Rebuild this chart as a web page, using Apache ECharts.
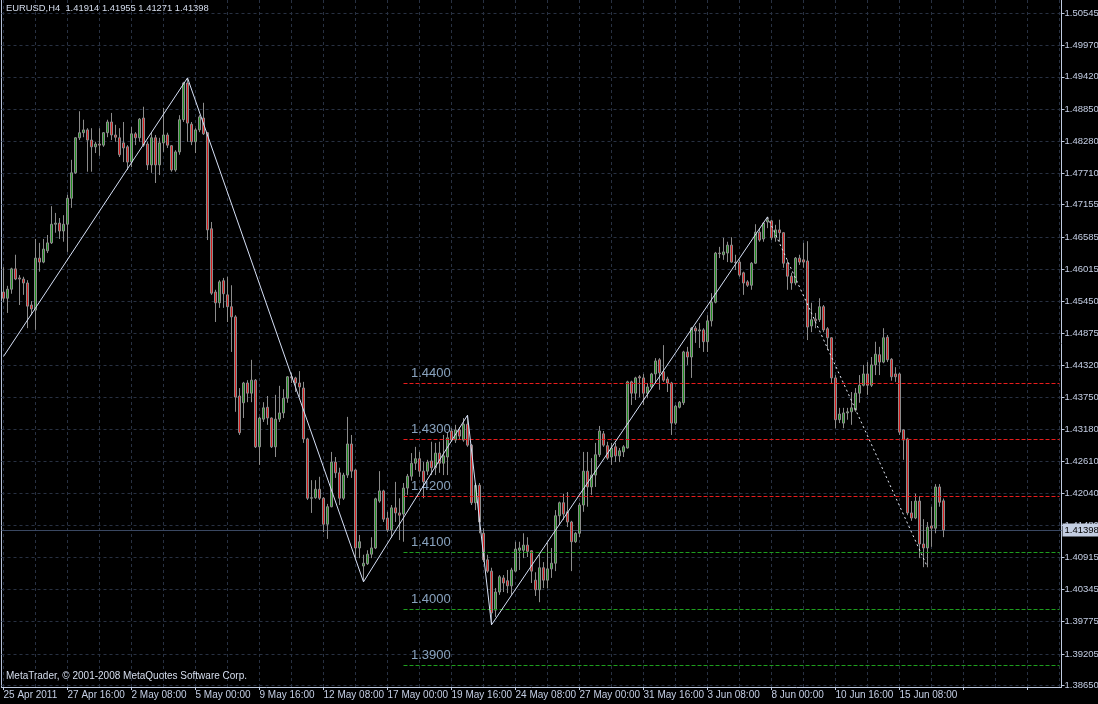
<!DOCTYPE html>
<html><head><meta charset="utf-8">
<script src="https://cdn.jsdelivr.net/npm/echarts@6/dist/echarts.min.js"></script>
<style>html,body{margin:0;padding:0;background:#000}#c{width:1098px;height:704px}</style>
</head><body><div id="c"></div>
<script>
// ---- data ----
const symbolName = 'EURUSD,H4';
const yearLabel = '2011';
const days = ['25 Apr','26 Apr','27 Apr','28 Apr','29 Apr','2 May','3 May','4 May','5 May','6 May','9 May','10 May','11 May','12 May','13 May','16 May','17 May','18 May','19 May','20 May','23 May','24 May','25 May','26 May','27 May','30 May','31 May','1 Jun','2 Jun','3 Jun','6 Jun','7 Jun','8 Jun','9 Jun','10 Jun','13 Jun','14 Jun','15 Jun','16 Jun','17 Jun'];
const hours = ['00:00','04:00','08:00','12:00','16:00','20:00'];
// [open, close, low, high]
const candles = [
[1.4561,1.4550,1.4543,1.4605],[1.4550,1.4566,1.4524,1.4572],[1.4566,1.4602,1.4558,1.4604],[1.4602,1.4584,1.4582,1.4627],
[1.4586,1.4584,1.4538,1.4591],[1.4584,1.4577,1.4556,1.4588],[1.4577,1.4536,1.4497,1.4582],[1.4538,1.4531,1.4520,1.4545],
[1.4529,1.4621,1.4494,1.4655],[1.4621,1.4614,1.4597,1.4648],[1.4614,1.4637,1.4612,1.4655],[1.4634,1.4648,1.4630,1.4662],
[1.4648,1.4681,1.4646,1.4713],[1.4681,1.4683,1.4666,1.4701],[1.4683,1.4669,1.4655,1.4692],[1.4669,1.4681,1.4650,1.4697],
[1.4681,1.4727,1.4632,1.4733],[1.4727,1.4772,1.4710,1.4795],[1.4772,1.4834,1.4770,1.4835],[1.4834,1.4843,1.4830,1.4881],
[1.4843,1.4848,1.4835,1.4866],[1.4848,1.4830,1.4774,1.4851],[1.4830,1.4818,1.4774,1.4851],[1.4818,1.4823,1.4807,1.4827],
[1.4823,1.4821,1.4802,1.4851],[1.4821,1.4843,1.4818,1.4844],[1.4843,1.4862,1.4835,1.4866],[1.4862,1.4839,1.4830,1.4878],
[1.4839,1.4835,1.4827,1.4857],[1.4834,1.4804,1.4800,1.4851],[1.4825,1.4816,1.4791,1.4862],[1.4818,1.4791,1.4777,1.4821],
[1.4791,1.4841,1.4782,1.4853],[1.4841,1.4834,1.4821,1.4844],[1.4834,1.4867,1.4827,1.4869],[1.4869,1.4821,1.4818,1.4889],
[1.4823,1.4786,1.4777,1.4827],[1.4786,1.4834,1.4772,1.4844],[1.4834,1.4786,1.4754,1.4839],[1.4786,1.4825,1.4768,1.4834],
[1.4825,1.4839,1.4809,1.4887],[1.4839,1.4821,1.4816,1.4843],[1.4820,1.4777,1.4774,1.4821],[1.4777,1.4809,1.4774,1.4812],
[1.4809,1.4866,1.4804,1.4874],[1.4866,1.4931,1.4862,1.4933],[1.4931,1.4860,1.4827,1.4940],[1.4858,1.4827,1.4821,1.4862],
[1.4827,1.4848,1.4807,1.4851],[1.4848,1.4871,1.4844,1.4874],[1.4869,1.4841,1.4839,1.4896],[1.4843,1.4671,1.4653,1.4844],
[1.4673,1.4559,1.4556,1.4685],[1.4561,1.4542,1.4508,1.4565],[1.4542,1.4579,1.4533,1.4582],[1.4581,1.4558,1.4533,1.4586],
[1.4556,1.4535,1.4508,1.4588],[1.4535,1.4517,1.4455,1.4573],[1.4517,1.4375,1.4349,1.4520],[1.4377,1.4312,1.4308,1.4391],
[1.4365,1.4400,1.4338,1.4402],[1.4400,1.4382,1.4366,1.4405],[1.4382,1.4405,1.4366,1.4441],[1.4405,1.4287,1.4285,1.4407],
[1.4287,1.4338,1.4255,1.4340],[1.4336,1.4356,1.4331,1.4366],[1.4357,1.4338,1.4326,1.4377],[1.4338,1.4287,1.4285,1.4339],
[1.4287,1.4336,1.4269,1.4379],[1.4336,1.4347,1.4331,1.4395],[1.4347,1.4373,1.4338,1.4389],[1.4373,1.4411,1.4365,1.4412],
[1.4411,1.4409,1.4400,1.4418],[1.4409,1.4400,1.4384,1.4411],[1.4400,1.4393,1.4375,1.4421],[1.4391,1.4301,1.4294,1.4402],
[1.4301,1.4196,1.4193,1.4303],[1.4196,1.4197,1.4170,1.4228],[1.4197,1.4212,1.4195,1.4228],[1.4212,1.4196,1.4193,1.4234],
[1.4196,1.4150,1.4136,1.4198],[1.4150,1.4181,1.4124,1.4186],[1.4181,1.4260,1.4180,1.4278],[1.4260,1.4241,1.4232,1.4269],
[1.4241,1.4196,1.4184,1.4250],[1.4196,1.4237,1.4193,1.4241],[1.4237,1.4292,1.4232,1.4340],[1.4292,1.4244,1.4232,1.4308],
[1.4246,1.4108,1.4090,1.4247],[1.4108,1.4119,1.4090,1.4131],[1.4076,1.4081,1.4048,1.4096],[1.4080,1.4097,1.4078,1.4104],
[1.4097,1.4108,1.4090,1.4127],[1.4108,1.4195,1.4106,1.4197],[1.4191,1.4209,1.4188,1.4244],[1.4209,1.4159,1.4154,1.4211],
[1.4161,1.4140,1.4136,1.4172],[1.4140,1.4179,1.4126,1.4184],[1.4179,1.4170,1.4154,1.4225],[1.4170,1.4166,1.4122,1.4196],
[1.4168,1.4214,1.4119,1.4223],[1.4214,1.4235,1.4202,1.4239],[1.4235,1.4258,1.4227,1.4276],[1.4258,1.4266,1.4246,1.4287],
[1.4266,1.4244,1.4234,1.4278],[1.4244,1.4225,1.4196,1.4260],[1.4244,1.4260,1.4237,1.4264],[1.4262,1.4250,1.4237,1.4296],
[1.4250,1.4276,1.4237,1.4294],[1.4276,1.4258,1.4241,1.4296],[1.4258,1.4271,1.4237,1.4308],[1.4269,1.4303,1.4237,1.4313],
[1.4315,1.4299,1.4296,1.4320],[1.4299,1.4317,1.4294,1.4326],[1.4317,1.4306,1.4299,1.4322],[1.4299,1.4327,1.4296,1.4338],
[1.4327,1.4290,1.4287,1.4343],[1.4290,1.4188,1.4184,1.4292],[1.4188,1.4219,1.4175,1.4223],[1.4219,1.4154,1.4134,1.4223],
[1.4134,1.4087,1.4083,1.4143],[1.4087,1.4067,1.4064,1.4096],[1.4067,1.3993,1.3972,1.4073],[1.3998,1.4030,1.3986,1.4037],
[1.4030,1.4057,1.4025,1.4060],[1.4055,1.4046,1.4030,1.4060],[1.4050,1.4041,1.4028,1.4069],[1.4041,1.4069,1.4025,1.4073],
[1.4067,1.4106,1.4065,1.4119],[1.4104,1.4108,1.4069,1.4119],[1.4104,1.4113,1.4090,1.4134],[1.4113,1.4102,1.4092,1.4127],
[1.4103,1.4067,1.4046,1.4104],[1.4051,1.4034,1.4023,1.4065],[1.4034,1.4073,1.4012,1.4096],[1.4073,1.4051,1.4037,1.4083],
[1.4051,1.4071,1.4037,1.4117],[1.4071,1.4081,1.4055,1.4108],[1.4081,1.4165,1.4067,1.4175],[1.4165,1.4188,1.4149,1.4190],
[1.4188,1.4168,1.4158,1.4204],[1.4172,1.4154,1.4145,1.4207],[1.4154,1.4119,1.4067,1.4156],[1.4119,1.4134,1.4117,1.4136],
[1.4134,1.4184,1.4127,1.4188],[1.4184,1.4244,1.4172,1.4278],[1.4244,1.4216,1.4181,1.4278],[1.4216,1.4237,1.4202,1.4267],
[1.4237,1.4273,1.4216,1.4294],[1.4273,1.4315,1.4269,1.4324],[1.4310,1.4290,1.4287,1.4315],[1.4289,1.4267,1.4264,1.4296],
[1.4269,1.4285,1.4255,1.4294],[1.4287,1.4271,1.4260,1.4294],[1.4271,1.4280,1.4260,1.4285],[1.4278,1.4287,1.4269,1.4290],
[1.4285,1.4402,1.4284,1.4404],[1.4402,1.4382,1.4361,1.4404],[1.4382,1.4409,1.4370,1.4411],[1.4411,1.4409,1.4375,1.4414],
[1.4409,1.4382,1.4361,1.4416],[1.4382,1.4393,1.4373,1.4400],[1.4393,1.4416,1.4391,1.4418],[1.4416,1.4439,1.4400,1.4444],
[1.4441,1.4418,1.4388,1.4444],[1.4420,1.4405,1.4402,1.4467],[1.4407,1.4400,1.4384,1.4411],[1.4400,1.4329,1.4308,1.4402],
[1.4329,1.4359,1.4326,1.4361],[1.4357,1.4366,1.4355,1.4368],[1.4365,1.4455,1.4361,1.4457],[1.4455,1.4446,1.4432,1.4464],
[1.4446,1.4497,1.4409,1.4499],[1.4497,1.4492,1.4471,1.4501],[1.4492,1.4494,1.4462,1.4506],[1.4494,1.4473,1.4455,1.4497],
[1.4473,1.4510,1.4455,1.4520],[1.4510,1.4543,1.4500,1.4559],[1.4543,1.4630,1.4541,1.4632],[1.4630,1.4629,1.4621,1.4641],
[1.4627,1.4632,1.4618,1.4657],[1.4630,1.4644,1.4614,1.4650],[1.4644,1.4614,1.4613,1.4658],[1.4614,1.4613,1.4600,1.4627],
[1.4614,1.4591,1.4588,1.4618],[1.4595,1.4577,1.4556,1.4597],[1.4579,1.4573,1.4570,1.4582],[1.4573,1.4612,1.4565,1.4614],
[1.4612,1.4667,1.4611,1.4681],[1.4667,1.4653,1.4650,1.4674],[1.4655,1.4683,1.4650,1.4685],[1.4685,1.4689,1.4674,1.4694],
[1.4687,1.4657,1.4653,1.4689],[1.4657,1.4671,1.4650,1.4680],[1.4671,1.4666,1.4650,1.4689],[1.4666,1.4612,1.4604,1.4667],
[1.4612,1.4589,1.4565,1.4618],[1.4589,1.4577,1.4565,1.4595],[1.4577,1.4621,1.4573,1.4623],[1.4621,1.4614,1.4609,1.4627],
[1.4618,1.4614,1.4604,1.4648],[1.4616,1.4499,1.4476,1.4651],[1.4501,1.4512,1.4490,1.4542],[1.4513,1.4510,1.4497,1.4524],
[1.4512,1.4535,1.4508,1.4550],[1.4535,1.4494,1.4490,1.4538],[1.4496,1.4480,1.4458,1.4499],[1.4480,1.4409,1.4400,1.4481],
[1.4409,1.4335,1.4320,1.4414],[1.4335,1.4345,1.4329,1.4356],[1.4329,1.4347,1.4320,1.4356],[1.4347,1.4349,1.4335,1.4356],
[1.4349,1.4356,1.4326,1.4384],[1.4352,1.4382,1.4349,1.4391],[1.4382,1.4396,1.4365,1.4414],[1.4396,1.4416,1.4394,1.4432],
[1.4416,1.4396,1.4379,1.4437],[1.4396,1.4432,1.4393,1.4446],[1.4432,1.4451,1.4414,1.4473],[1.4450,1.4437,1.4414,1.4464],
[1.4437,1.4480,1.4435,1.4497],[1.4481,1.4441,1.4437,1.4485],[1.4442,1.4411,1.4404,1.4444],[1.4416,1.4411,1.4402,1.4428],
[1.4416,1.4313,1.4308,1.4418],[1.4317,1.4299,1.4264,1.4318],[1.4301,1.4170,1.4166,1.4303],[1.4170,1.4161,1.4156,1.4191],
[1.4161,1.4191,1.4159,1.4204],[1.4191,1.4115,1.4090,1.4200],[1.4115,1.4108,1.4074,1.4159],[1.4108,1.4145,1.4074,1.4154],
[1.4147,1.4143,1.4110,1.4181],[1.4143,1.4216,1.4134,1.4221],[1.4216,1.4189,1.4181,1.4221],[1.41914,1.41398,1.41271,1.41955]
];
const lastOpen = 1.41914, lastHigh = 1.41955, lastLow = 1.41271, lastClose = 1.41398;
const yTickLabels = ['1.50545','1.49970','1.49420','1.48850','1.48280','1.47710','1.47155','1.46585','1.46015','1.45450','1.44875','1.44320','1.43750','1.43180','1.42610','1.42040','1.41480','1.40915','1.40345','1.39775','1.39205','1.38650'];
const levels = [1.4400, 1.4300, 1.4200, 1.4100, 1.4000, 1.3900];
const levelStartIdx = 100;
const zigzagIdx = [0, 46, 90, 116, 122, 191];
const zigzagVal = [1.4447, 1.4940, 1.4048, 1.4343, 1.3972, 1.4694];
const zigzagDotIdx = [191, 231];
const zigzagDotVal = [1.4694, 1.4074];
const copyright = 'MetaTrader, \u00a9 2001-2008 MetaQuotes Software Corp.';

// ---- build ----
const totalSlots = 265;
const categories = [];
days.forEach(d => hours.forEach(h => categories.push(d + ' ' + h)));
while (categories.length < totalSlots) categories.push('');
const yMin = 1.38619, yMax = 1.50779;
const tickVals = yTickLabels.map(Number);
const vGrid = [];
for (let i = 0; i < totalSlots; i += 8) vGrid.push({ xAxis: i });
const FONT = 'Liberation Sans, Arial, sans-serif';
const TXT = '#c4cee4';

const chart = echarts.init(document.getElementById('c'), null, { renderer: 'canvas' });
chart.setOption({
  animation: false,
  backgroundColor: '#000000',
  grid: { left: 1.5, right: 36.5, top: 0, bottom: 17, outerBoundsMode: 'none', containLabel: false },
  xAxis: {
    type: 'category', data: categories, boundaryGap: true,
    axisLine: { show: true, lineStyle: { color: '#c0cbe0', width: 1 } },
    axisTick: { show: true, interval: 15, length: 3, alignWithLabel: true, lineStyle: { color: '#c0cbe0' } },
    axisLabel: {
      interval: 15, align: 'left', margin: 3, color: TXT, fontSize: 10, fontFamily: FONT,
      formatter: (v, idx) => idx === 0 ? days[0] + ' ' + yearLabel : v
    },
    splitLine: { show: false }
  },
  yAxis: [{
    type: 'value', position: 'right', min: yMin, max: yMax, scale: true,
    axisLine: { show: true, lineStyle: { color: '#c0cbe0', width: 1 } },
    axisTick: { show: true, length: 3, customValues: tickVals, lineStyle: { color: '#c0cbe0' } },
    axisLabel: { customValues: tickVals, margin: 3, color: TXT, fontSize: 9.5, fontFamily: FONT,
      formatter: v => v.toFixed(5) },
    splitLine: { show: false }
  }, {
    type: 'value', position: 'left', min: yMin, max: yMax, scale: true,
    axisLine: { show: true, lineStyle: { color: '#b4c0d8', width: 1 } },
    axisTick: { show: false }, axisLabel: { show: false }, splitLine: { show: false }
  }],
  graphic: [
    { type: 'text', left: 6, top: 4, z: 100, style: { text: symbolName + '  ' + [lastOpen, lastHigh, lastLow, lastClose].map(v => v.toFixed(5)).join(' '), fill: '#d6deee', font: '9.4px ' + FONT } },
    { type: 'text', left: 6, top: 671, z: 100, style: { text: copyright, fill: '#d6deee', font: '10px ' + FONT } }
  ],
  series: [
    { // grid lines
      type: 'line', data: [], silent: true, z: 1,
      markLine: {
        silent: true, symbol: ['none', 'none'], z: 1, animation: false, precision: 6,
        label: { show: false },
        lineStyle: { color: '#283142', type: [3, 3], width: 1 },
        data: vGrid.concat(tickVals.map(v => ({ yAxis: v })))
      }
    },
    { // current price line
      type: 'line', data: [], silent: true, z: 2,
      markLine: {
        silent: true, symbol: ['none', 'none'], z: 2, animation: false, precision: 6,
        lineStyle: { color: '#3a4862', type: 'solid', width: 1 },
        label: { show: true, position: 'end', distance: 1, formatter: p => (+p.value).toFixed(5),
          backgroundColor: '#c4cee2', color: '#000', fontSize: 9.5, fontFamily: FONT, padding: [2, 2, 1, 2] },
        data: [{ yAxis: lastClose }]
      }
    },
    {
      type: 'candlestick', name: 'EURUSD', z: 3,
      data: candles, barWidth: 2,
      itemStyle: { color: '#1f8f1f', color0: '#d81c1c', borderColor: '#8c8c8c', borderColor0: '#8c8c8c', borderWidth: 1 }
    },
    { // horizontal level lines
      type: 'line', data: [], silent: true, z: 4,
      markLine: {
        silent: true, symbol: ['none', 'none'], z: 4, animation: false, precision: 6,
        label: { show: false },
        data: levels.map(v => [
          { coord: [levelStartIdx, v], lineStyle: { color: v > 1.415 ? '#e81c1c' : '#1e9e1e', type: [4, 2], width: 1 } },
          { coord: [totalSlots - 1, v] }
        ])
      }
    },
    { // level labels
      type: 'scatter', silent: true, z: 5, symbolSize: 1,
      itemStyle: { color: 'rgba(0,0,0,0)' },
      data: levels.map(v => [levelStartIdx + 2, v]),
      label: { show: true, position: 'right', distance: 0, offset: [-1, -10],
        formatter: p => p.value[1].toFixed(4), color: '#aacaee', fontSize: 13, fontFamily: FONT }
    },
    { // zigzag solid
      type: 'line', silent: true, z: 6, symbol: 'none',
      data: zigzagIdx.map((x, k) => [x, zigzagVal[k]]),
      lineStyle: { color: '#d6e0f6', width: 1 }
    },
    { // zigzag dotted (current leg)
      type: 'line', silent: true, z: 6, symbol: 'none',
      data: zigzagDotIdx.map((x, k) => [x, zigzagDotVal[k]]),
      lineStyle: { color: '#e6ecfa', width: 1, type: [2, 3] }
    }
  ]
});
</script></body></html>
